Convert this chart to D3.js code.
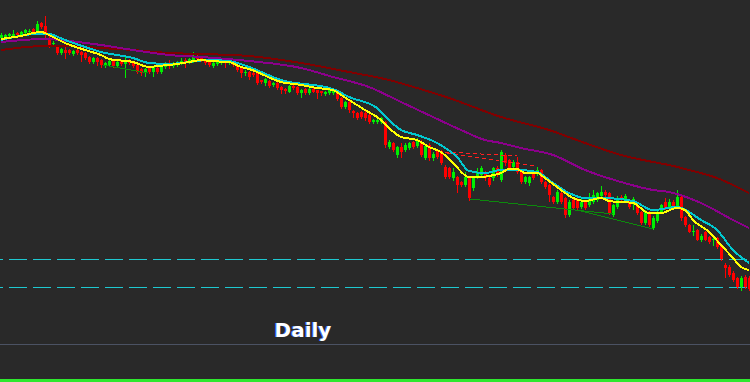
<!DOCTYPE html>
<html>
<head>
<meta charset="utf-8">
<script src="https://cdn.jsdelivr.net/npm/d3@7"></script>
<style>
  html, body { margin: 0; padding: 0; background: #292929; overflow: hidden; }
</style>
</head>
<body>
<svg id="chart" width="750" height="382"></svg>
<script>
// ── Data ────────────────────────────────────────────────────────────────
// daily OHLC, oldest first
const opens = [
  1.362,1.363,1.364,1.364,1.367,1.365,1.367,1.368,1.371,1.368,
  1.377,1.374,1.362,1.356,1.353,1.347,1.350,1.350,1.346,1.350,
  1.348,1.347,1.343,1.338,1.342,1.340,1.334,1.335,1.339,1.334,
  1.339,1.336,1.340,1.337,1.335,1.331,1.328,1.332,1.328,1.332,
  1.328,1.333,1.337,1.334,1.335,1.337,1.340,1.338,1.339,1.343,
  1.343,1.340,1.338,1.334,1.336,1.337,1.340,1.337,1.338,1.335,
  1.332,1.327,1.328,1.327,1.327,1.320,1.317,1.319,1.315,1.317,
  1.313,1.311,1.308,1.314,1.313,1.307,1.311,1.307,1.311,1.310,
  1.309,1.306,1.307,1.307,1.308,1.302,1.293,1.298,1.289,1.287,
  1.288,1.287,1.285,1.278,1.278,1.278,1.278,1.253,1.257,1.245,
  1.253,1.250,1.252,1.258,1.254,1.258,1.242,1.255,1.242,1.250,
  1.249,1.233,1.232,1.222,1.223,1.218,1.215,1.222,1.212,1.223,
  1.225,1.228,1.222,1.222,1.232,1.220,1.245,1.240,1.233,1.238,
  1.228,1.218,1.217,1.227,1.227,1.230,1.218,1.215,1.203,1.198,
  1.207,1.202,1.185,1.200,1.200,1.193,1.198,1.195,1.198,1.200,
  1.204,1.208,1.207,1.185,1.193,1.203,1.200,1.200,1.197,1.195,
  1.188,1.177,1.188,1.172,1.179,1.188,1.198,1.193,1.198,1.193,
  1.203,1.183,1.175,1.168,1.170,1.160,1.168,1.163,1.160,1.162,
  1.155,1.135,1.133,1.127,1.122,1.113,1.123,1.122
];
const highs = [
  1.367,1.366,1.367,1.370,1.368,1.369,1.371,1.371,1.372,1.379,
  1.378,1.384,1.364,1.359,1.355,1.352,1.353,1.351,1.350,1.351,
  1.349,1.348,1.344,1.343,1.343,1.341,1.338,1.340,1.340,1.339,
  1.340,1.344,1.341,1.338,1.336,1.332,1.332,1.333,1.333,1.333,
  1.334,1.338,1.340,1.338,1.339,1.342,1.342,1.342,1.348,1.347,
  1.344,1.341,1.339,1.338,1.339,1.342,1.341,1.339,1.339,1.336,
  1.333,1.330,1.329,1.328,1.328,1.320,1.322,1.320,1.318,1.318,
  1.314,1.312,1.315,1.315,1.314,1.311,1.312,1.312,1.312,1.310,
  1.309,1.309,1.312,1.310,1.309,1.303,1.299,1.300,1.290,1.288,
  1.289,1.290,1.286,1.281,1.281,1.283,1.279,1.260,1.258,1.254,
  1.257,1.257,1.258,1.259,1.262,1.260,1.255,1.257,1.248,1.251,
  1.250,1.235,1.233,1.232,1.224,1.219,1.228,1.223,1.224,1.232,
  1.234,1.229,1.223,1.233,1.234,1.250,1.247,1.241,1.240,1.243,
  1.229,1.224,1.224,1.228,1.233,1.231,1.219,1.216,1.204,1.210,
  1.208,1.203,1.200,1.201,1.204,1.202,1.199,1.207,1.210,1.208,
  1.214,1.210,1.208,1.196,1.204,1.205,1.206,1.201,1.203,1.196,
  1.189,1.190,1.189,1.184,1.190,1.196,1.202,1.201,1.200,1.210,
  1.204,1.184,1.176,1.175,1.171,1.166,1.169,1.164,1.163,1.163,
  1.156,1.137,1.135,1.129,1.123,1.124,1.125,1.124
];
const lows = [
  1.361,1.362,1.363,1.363,1.364,1.364,1.366,1.367,1.367,1.367,
  1.372,1.363,1.353,1.355,1.346,1.346,1.342,1.346,1.345,1.346,
  1.339,1.341,1.337,1.337,1.335,1.333,1.333,1.334,1.333,1.333,
  1.335,1.323,1.336,1.333,1.327,1.325,1.324,1.327,1.324,1.327,
  1.327,1.332,1.332,1.333,1.334,1.336,1.333,1.337,1.338,1.340,
  1.339,1.336,1.334,1.333,1.335,1.336,1.333,1.336,1.334,1.329,
  1.323,1.325,1.321,1.324,1.316,1.317,1.315,1.313,1.314,1.311,
  1.307,1.307,1.308,1.311,1.306,1.303,1.306,1.306,1.308,1.302,
  1.305,1.305,1.306,1.306,1.300,1.292,1.292,1.288,1.283,1.281,
  1.282,1.280,1.277,1.277,1.277,1.277,1.253,1.252,1.249,1.243,
  1.243,1.249,1.251,1.252,1.253,1.244,1.241,1.240,1.240,1.242,
  1.236,1.222,1.222,1.220,1.208,1.214,1.214,1.200,1.210,1.222,
  1.224,1.220,1.214,1.220,1.224,1.219,1.235,1.231,1.232,1.227,
  1.217,1.217,1.215,1.221,1.225,1.217,1.212,1.199,1.197,1.197,
  1.197,1.183,1.184,1.191,1.191,1.192,1.191,1.194,1.197,1.199,
  1.203,1.200,1.186,1.184,1.192,1.198,1.199,1.192,1.191,1.186,
  1.176,1.176,1.174,1.171,1.178,1.187,1.191,1.192,1.193,1.192,
  1.180,1.174,1.168,1.165,1.160,1.159,1.160,1.157,1.155,1.152,
  1.140,1.123,1.124,1.119,1.112,1.110,1.112,1.110
];
const closes = [
  1.365,1.365,1.366,1.366,1.365,1.368,1.370,1.369,1.368,1.376,
  1.373,1.365,1.355,1.357,1.347,1.351,1.347,1.347,1.349,1.347,
  1.345,1.342,1.338,1.342,1.338,1.335,1.337,1.339,1.334,1.338,
  1.336,1.339,1.337,1.334,1.328,1.327,1.331,1.328,1.333,1.328,
  1.333,1.337,1.334,1.337,1.338,1.339,1.337,1.341,1.343,1.341,
  1.340,1.337,1.335,1.337,1.338,1.341,1.337,1.338,1.335,1.330,
  1.327,1.328,1.323,1.325,1.317,1.318,1.321,1.314,1.317,1.312,
  1.310,1.309,1.314,1.312,1.307,1.310,1.307,1.311,1.308,1.307,
  1.307,1.308,1.310,1.309,1.301,1.293,1.298,1.290,1.287,1.282,
  1.283,1.282,1.278,1.280,1.280,1.282,1.255,1.258,1.250,1.253,
  1.248,1.255,1.257,1.253,1.260,1.245,1.254,1.242,1.246,1.243,
  1.237,1.223,1.223,1.228,1.215,1.215,1.223,1.202,1.222,1.228,
  1.232,1.222,1.215,1.232,1.225,1.248,1.237,1.232,1.238,1.228,
  1.218,1.223,1.223,1.222,1.230,1.218,1.213,1.205,1.198,1.208,
  1.198,1.185,1.198,1.192,1.192,1.198,1.192,1.203,1.205,1.207,
  1.208,1.205,1.187,1.195,1.202,1.200,1.204,1.193,1.201,1.187,
  1.177,1.188,1.175,1.182,1.188,1.195,1.192,1.198,1.194,1.203,
  1.182,1.175,1.168,1.169,1.160,1.164,1.160,1.158,1.161,1.153,
  1.141,1.132,1.125,1.120,1.113,1.122,1.113,1.111
];

// moving averages, read at selected bars: [bar index, value]
const maFast = [
  [0,1.361],[5,1.364],[10,1.368],[12,1.365],[16,1.357],[21,1.350],[25,1.345],[27,1.341],
  [33,1.338],[37,1.333],[39,1.334],[42,1.335],[47,1.338],[50,1.340],[52,1.339],[57,1.338],
  [60,1.333],[62,1.331],[70,1.318],[75,1.315],[79,1.312],[83,1.310],[85,1.305],[87,1.300],
  [91,1.290],[95,1.280],[97,1.272],[100,1.263],[104,1.260],[107,1.253],[110,1.248],[113,1.237],
  [117,1.223],[120,1.223],[122,1.224],[125,1.227],[127,1.231],[129,1.231],[131,1.227],[134,1.227],
  [136,1.222],[140,1.210],[143,1.202],[146,1.199],[150,1.202],[152,1.199],[158,1.197],[162,1.187],
  [165,1.187],[169,1.192],[171,1.190],[173,1.180],[177,1.168],[180,1.155],[183,1.142],[185,1.133],
  [187,1.130]
];
const maMid = [
  [0,1.360],[10,1.3665],[12,1.366],[16,1.360],[21,1.353],[25,1.348],[33,1.342],[37,1.337],
  [42,1.336],[47,1.338],[52,1.340],[57,1.339],[62,1.333],[70,1.320],[83,1.311],[87,1.303],
  [94,1.292],[95,1.288],[100,1.270],[104,1.265],[109,1.257],[114,1.243],[117,1.229],[121,1.227],
  [125,1.230],[129,1.230],[134,1.228],[138,1.217],[142,1.207],[146,1.202],[151,1.202],[158,1.199],
  [163,1.190],[169,1.193],[175,1.180],[179,1.170],[183,1.150],[187,1.137]
];
const maSlow = [
  [0,1.358],[11,1.361],[17,1.359],[25,1.355],[33,1.350],[42,1.345],[50,1.343],[62,1.339],
  [75,1.332],[83,1.323],[92,1.313],[100,1.298],[108,1.283],[115,1.270],[121,1.260],[125,1.257],
  [130,1.252],[138,1.245],[146,1.230],[155,1.218],[163,1.210],[167,1.208],[175,1.197],[183,1.180],
  [187,1.172]
];
const maLong = [
  [0,1.350],[11,1.354],[17,1.354],[25,1.352],[33,1.350],[42,1.347],[50,1.346],[62,1.344],
  [75,1.337],[87,1.328],[97,1.320],[104,1.312],[112,1.302],[125,1.283],[137,1.270],[146,1.257],
  [155,1.245],[163,1.238],[167,1.235],[172,1.230],[179,1.222],[187,1.207]
];

// horizontal price levels
const levels = [1.141, 1.113];

// trend lines: [bar1, price1, bar2, price2]
const supportLines = [
  [25.5, 1.335, 36.75, 1.327],
  [117.25, 1.201, 153, 1.186],
  [144, 1.190, 163, 1.171]
];
const resistLines = [
  [111, 1.248, 129, 1.244],
  [111.5, 1.247, 134, 1.234]
];

const periodLabel = "Daily";

// ── Palette ─────────────────────────────────────────────────────────────
const BG    = "#292929";
const UP    = "#00ee00";
const DOWN  = "#ff0000";
const MA_C  = ["#ffff00", "#00c8d0", "#8b008b", "#800000"];
const LEVEL = "#1ec8d0";

// ── Chart ───────────────────────────────────────────────────────────────
const W = 750, H = 382;
const svg = d3.select("#chart");
svg.append("rect").attr("width", W).attr("height", H).attr("fill", BG);

const x = d3.scaleLinear().domain([0, opens.length - 1]).range([1, 749]);
const y = d3.scaleLinear().domain([1.018, 1.400]).range([H, 0]);

const bars = opens.map((o, i) => ({ i, o, h: highs[i], l: lows[i], c: closes[i] }));
const col = d => d.c >= d.o ? UP : DOWN;

// price levels
svg.append("g").selectAll("line").data(levels).join("line")
  .attr("x1", 0).attr("x2", W)
  .attr("y1", d => Math.round(y(d)) + 0.5).attr("y2", d => Math.round(y(d)) + 0.5)
  .attr("stroke", LEVEL).attr("stroke-width", 1)
  .attr("stroke-dasharray", "18,6").attr("stroke-dashoffset", 15);

// candles
const cg = svg.append("g").attr("shape-rendering", "crispEdges");
cg.selectAll("line").data(bars).join("line")
  .attr("x1", d => Math.round(x(d.i)) + 0.5).attr("x2", d => Math.round(x(d.i)) + 0.5)
  .attr("y1", d => Math.round(y(d.h))).attr("y2", d => Math.round(y(d.l)) + 1)
  .attr("stroke", col).attr("stroke-width", 1);
cg.selectAll("rect").data(bars).join("rect")
  .attr("x", d => Math.round(x(d.i)) - 1).attr("width", 3)
  .attr("y", d => Math.round(y(Math.max(d.o, d.c))))
  .attr("height", d => Math.max(1, Math.round(Math.abs(y(d.o) - y(d.c)))))
  .attr("fill", col);

// trend lines
const tl = svg.append("g").attr("shape-rendering", "crispEdges");
tl.selectAll(".sup").data(supportLines).join("line").attr("class", "sup")
  .attr("x1", d => x(d[0])).attr("y1", d => y(d[1]))
  .attr("x2", d => x(d[2])).attr("y2", d => y(d[3]))
  .attr("stroke", "#0c8a0c").attr("stroke-width", 1);
tl.selectAll(".res").data(resistLines).join("line").attr("class", "res")
  .attr("x1", d => x(d[0])).attr("y1", d => y(d[1]))
  .attr("x2", d => x(d[2])).attr("y2", d => y(d[3]))
  .attr("stroke", "#ff2020").attr("stroke-width", 1).attr("stroke-dasharray", "4,3");

// moving averages (aliased like the terminal draws them)
const maLine = d3.line().x(d => x(d[0])).y(d => y(d[1])).curve(d3.curveMonotoneX);
[maLong, maSlow, maMid, maFast].forEach((s, k) => {
  svg.append("path").datum(s)
    .attr("d", maLine).attr("fill", "none")
    .attr("shape-rendering", "crispEdges")
    .attr("stroke", MA_C[3 - k]).attr("stroke-width", 2);
});

// period label
const lbl = svg.append("g").style("font-family", "'DejaVu Sans', sans-serif")
  .style("font-weight", "bold").style("font-size", "20px").attr("text-anchor", "middle");
lbl.append("text").attr("x", 302).attr("y", 337).attr("fill", "#3a6cff").text(periodLabel);
lbl.append("text").attr("x", 303).attr("y", 337).attr("fill", "#ffffff").text(periodLabel);

// sub-window separator and indicator baseline
svg.append("line").attr("x1", 0).attr("x2", W).attr("y1", 344.5).attr("y2", 344.5)
  .attr("stroke", "#4b5263").attr("stroke-width", 1);
svg.append("rect").attr("x", 0).attr("y", 379).attr("width", W).attr("height", 3)
  .attr("fill", "#2ee82e");
</script>
</body>
</html>
